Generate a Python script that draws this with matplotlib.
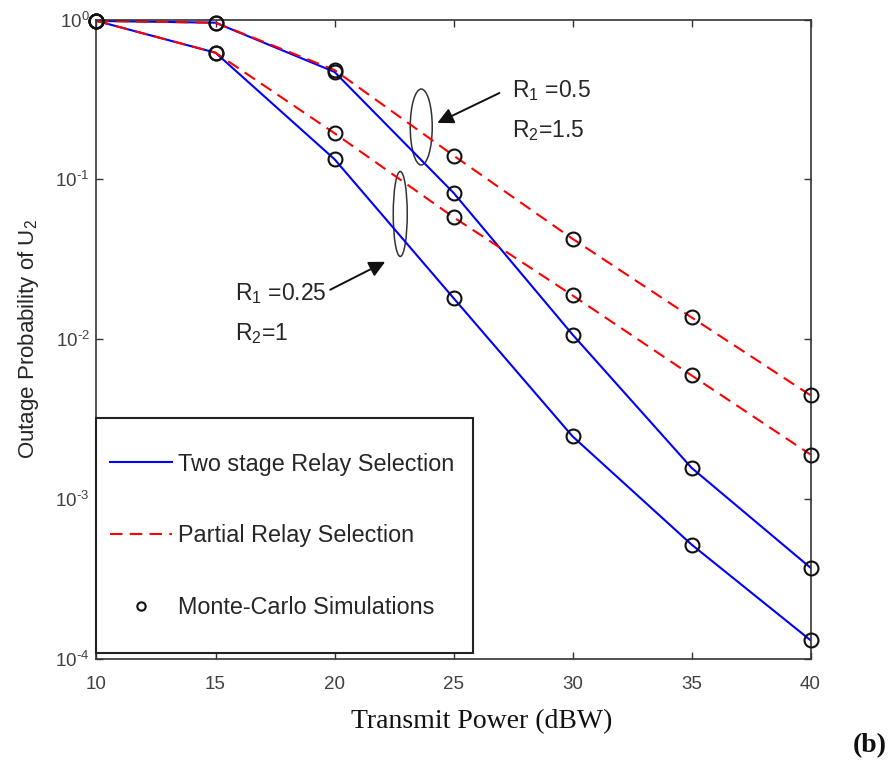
import numpy as np
import matplotlib
matplotlib.use("Agg")
import matplotlib.pyplot as plt
from matplotlib.patches import Ellipse
from matplotlib.lines import Line2D
from matplotlib.legend_handler import HandlerLine2D
from matplotlib.ticker import FuncFormatter, NullLocator

# ---- data -------------------------------------------------------------
transmit_power_db = [10, 15, 20, 25, 30, 35, 40]

# R1 = 0.5, R2 = 1.5
two_stage_r05 = [0.98, 0.955, 0.47, 0.0824, 0.0107, 0.00157, 3.72e-4]
partial_r05 = [0.98, 0.955, 0.483, 0.141, 0.0425, 0.0137, 0.00446]

# R1 = 0.25, R2 = 1
two_stage_r025 = [0.98, 0.62, 0.1337, 0.0181, 0.00247, 5.2e-4, 1.31e-4]
partial_r025 = [0.98, 0.62, 0.1944, 0.058, 0.0188, 0.00594, 0.0019]

x_ticks = [10, 15, 20, 25, 30, 35, 40]
y_ticks = [1e-4, 1e-3, 1e-2, 1e-1, 1e0]

legend_labels = ["Two stage Relay Selection",
                 "Partial Relay Selection",
                 "Monte-Carlo Simulations"]

# ---- style ------------------------------------------------------------
plt.rcParams["font.family"] = ["Liberation Sans", "DejaVu Sans"]
plt.rcParams["mathtext.fontset"] = "custom"
plt.rcParams["mathtext.rm"] = "Liberation Sans"
plt.rcParams["mathtext.it"] = "Liberation Sans:italic"
plt.rcParams["mathtext.bf"] = "Liberation Sans:bold"
plt.rcParams["mathtext.default"] = "regular"
plt.rcParams["axes.unicode_minus"] = False

TEXT = "#262626"
BLUE = "#0000ff"
RED = "#ff0000"
DASH = (0, (6, 3.5))
LEG_FS = 16.8

fig = plt.figure(figsize=(8.96, 7.62), dpi=100)
ax = fig.add_axes([0.1077, 0.1352, 0.7969, 0.8392])

line_kw = dict(lw=1.5)
l_two, = ax.plot(transmit_power_db, two_stage_r05, color=BLUE, **line_kw)
ax.plot(transmit_power_db, two_stage_r025, color=BLUE, **line_kw)
l_par, = ax.plot(transmit_power_db, partial_r05, color=RED, ls=DASH, **line_kw)
ax.plot(transmit_power_db, partial_r025, color=RED, ls=DASH, **line_kw)

mc_kw = dict(ls="none", marker="o", ms=10, mfc="none", mec="#111111",
             mew=1.5, clip_on=False, zorder=3)
l_mc, = ax.plot(transmit_power_db, two_stage_r05, **mc_kw)
for series in (two_stage_r025, partial_r05, partial_r025):
    ax.plot(transmit_power_db, series, **mc_kw)

ax.set_yscale("log")
ax.set_xlim(10, 40)
ax.set_ylim(1e-4, 1e0)
ax.set_xticks(x_ticks)
ax.set_yticks(y_ticks)
ax.yaxis.set_minor_locator(NullLocator())


# decade labels written with a short hyphen in the exponent
def decade_label(value, pos):
    exp = int(round(np.log10(value)))
    sign = "\u2010" if exp < 0 else ""
    return "10$^{%s%d}$" % (sign, abs(exp))


ax.yaxis.set_major_formatter(FuncFormatter(decade_label))

ax.tick_params(axis="both", which="major", direction="in", length=5,
               width=1.0, color="#333333", labelcolor="#404040",
               labelsize=13.5, top=True, right=True)
ax.tick_params(axis="x", pad=12)
ax.tick_params(axis="y", pad=5)
for sp in ax.spines.values():
    sp.set_color("#333333")
    sp.set_linewidth(1.2)

ax.set_ylabel("Outage Probability of U$_2$", fontsize=16, color=TEXT)
ax.yaxis.set_label_coords(-0.078, 0.5)
ax.set_xlabel("Transmit Power (dBW)", fontsize=20, color="#111111",
              family=["Liberation Serif", "DejaVu Serif"])
ax.xaxis.set_label_coords(0.539, -0.078)

# rate-pair callouts
ax.add_patch(Ellipse((0.4548, 0.8319), 0.0308, 0.1188, transform=ax.transAxes,
                     fill=False, ec="#333333", lw=1.1))
ax.add_patch(Ellipse((0.4254, 0.6959), 0.0196, 0.1329, transform=ax.transAxes,
                     fill=False, ec="#333333", lw=1.1))

arrow = dict(arrowstyle="-|>", color="#111111", lw=1.4, mutation_scale=24,
             shrinkA=0, shrinkB=0)
ax.annotate("", xy=(24.32, 0.2255), xytext=(26.93, 0.347), arrowprops=arrow)
ax.annotate("", xy=(22.13, 0.0305), xytext=(19.82, 0.0204), arrowprops=arrow)

ann_kw = dict(fontsize=16.5, color=TEXT, ha="left", va="baseline")
ax.text(27.47, 0.328, "R$_1$ =0.5", **ann_kw)
ax.text(27.47, 0.1844, "R$_2$=1.5", **ann_kw)
ax.text(15.82, 0.01766, "R$_1$ =0.25", **ann_kw)
ax.text(15.82, 0.00993, "R$_2$=1", **ann_kw)


# legend handles sit at the middle of the capital letters of each label
def centre_on_caps(legend_handle, orig_handle):
    legend_handle.update_from(orig_handle)
    y = np.asarray(legend_handle.get_ydata(), dtype=float)
    legend_handle.set_ydata(np.full_like(y, 0.36 * LEG_FS))


leg = ax.legend([l_two, l_par, l_mc], legend_labels, loc="lower left",
                bbox_to_anchor=(0.0, 0.01), borderaxespad=0, fontsize=LEG_FS,
                handlelength=2.44, handletextpad=0.26, labelspacing=0.78,
                handleheight=3.15, borderpad=0.8, markerscale=0.6,
                frameon=True, fancybox=False, framealpha=1,
                edgecolor="#222222", labelcolor=TEXT,
                handler_map={Line2D: HandlerLine2D(xpad=-0.23,
                                                   update_func=centre_on_caps)})
leg.get_frame().set_linewidth(1.5)

fig.text(0.971, 0.022, "(b)", fontsize=20, fontweight="bold",
         family=["Liberation Serif", "DejaVu Serif"], ha="center",
         va="center", color="#111111")

fig.savefig("out.png", dpi=100, facecolor="white")
